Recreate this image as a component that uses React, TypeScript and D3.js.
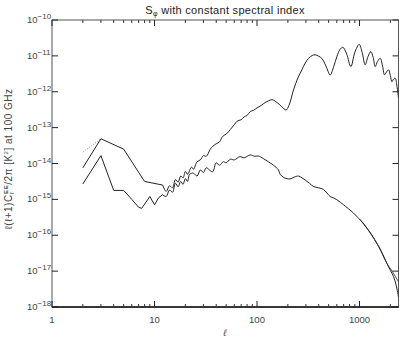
import React, { useEffect } from 'react'
import * as d3 from 'd3'

// multipole values and log10 of the power
const upperL = [2, 3, 5, 8, 11, 12, 13, 14, 15, 16, 17, 18, 19, 20, 21, 23, 24, 26, 28, 30, 32, 35, 37, 40, 43, 46, 50, 55, 60, 64, 70, 75, 80, 86, 92, 100, 110, 120, 130, 140, 150, 160, 175, 192, 205, 227, 250, 274, 295, 318, 345, 369, 400, 429, 470, 517, 560, 601, 645, 688, 750, 823, 900, 992, 1060, 1136, 1210, 1291, 1360, 1422, 1500, 1592, 1670, 1753, 1830, 1918, 2000, 2069, 2150, 2230, 2320, 2400]
const upperLog = [-14.12, -13.31, -13.6, -14.5, -14.58, -14.6, -14.78, -14.62, -14.68, -14.45, -14.52, -14.35, -14.4, -14.22, -14.3, -14.1, -14.16, -13.95, -13.9, -13.78, -13.8, -13.6, -13.52, -13.45, -13.4, -13.25, -13.18, -13.05, -12.92, -12.82, -12.78, -12.7, -12.66, -12.55, -12.52, -12.45, -12.38, -12.3, -12.25, -12.22, -12.26, -12.32, -12.42, -12.51, -12.38, -11.95, -11.62, -11.39, -11.2, -11.07, -10.99, -10.97, -11.01, -11.07, -11.28, -11.53, -11.3, -11.02, -10.82, -10.76, -10.95, -11.3, -10.9, -10.68, -10.9, -11.25, -11.02, -10.88, -11.05, -11.3, -11.15, -11.07, -11.25, -11.53, -11.45, -11.39, -11.55, -11.72, -11.65, -11.62, -11.85, -12.18]

const lowerL = [2, 3, 4, 5, 6, 7, 7.5, 9, 10, 11, 12, 13, 14, 15, 16, 17, 18, 19, 20, 21, 22, 24, 26, 28, 30, 32, 35, 37, 40, 43, 47, 50, 55, 60, 68, 75, 86, 95, 103, 115, 129, 145, 162, 168, 185, 210, 230, 254, 275, 295, 325, 355, 400, 444, 480, 517, 560, 601, 650, 697, 780, 873, 960, 1056, 1160, 1279, 1400, 1536, 1690, 1846, 2000, 2147, 2280, 2400]
const lowerLog = [-14.57, -13.78, -14.75, -14.75, -15.0, -15.22, -15.25, -14.92, -15.15, -14.95, -14.87, -14.92, -14.74, -14.8, -14.55, -14.65, -14.5, -14.58, -14.42, -14.5, -14.3, -14.27, -14.35, -14.18, -14.25, -14.12, -14.2, -14.23, -13.98, -14.05, -13.95, -13.98, -13.88, -13.9, -13.81, -13.84, -13.76, -13.8, -13.79, -13.86, -13.95, -14.05, -14.18, -14.3, -14.4, -14.43, -14.38, -14.35, -14.4, -14.46, -14.55, -14.64, -14.68, -14.72, -14.82, -14.92, -14.96, -15.01, -15.08, -15.15, -15.26, -15.38, -15.5, -15.62, -15.77, -15.94, -16.12, -16.31, -16.54, -16.78, -16.98, -17.15, -17.4, -17.72]

// thin model curves that show only where they leave the data
const modelUpperL = [2, 2.5, 3]
const modelUpperLog = [-13.68, -13.48, -13.31]
const modelLowerL = [1000, 1279, 1536, 1846, 2100, 2400]
const modelLowerLog = [-15.55, -15.94, -16.31, -16.78, -17.02, -17.3]

const yExponents = [-10, -11, -12, -13, -14, -15, -16, -17, -18]
const xLabels = [1, 10, 100, 1000]

const W = 415
const H = 346
const left = 52
const right = 398.5
const top = 20
const bottom = 307
const font = "'Liberation Sans', 'DejaVu Sans', sans-serif"

const App = () => {
  useEffect(() => {
    document.body.style.margin = '0'
  }, [])

  const x = d3.scaleLog().domain([1, 2400]).range([left, right])
  const y = d3.scaleLog().domain([1e-18, 1e-10]).range([bottom, top])

  const toPts = (ls: number[], logs: number[]) => ls.map((l, i) => [l, Math.pow(10, logs[i])] as [number, number])
  const straight = d3
    .line<[number, number]>()
    .x((d) => x(d[0]))
    .y((d) => y(d[1]))
  const smooth = d3
    .line<[number, number]>()
    .x((d) => x(d[0]))
    .y((d) => y(d[1]))
    .curve(d3.curveCatmullRom.alpha(0.5))

  // low multipoles are drawn point to point, the rest smoothed
  const curvePath = (ls: number[], logs: number[]) => {
    const pts = toPts(ls, logs)
    const lo = pts.filter((p) => p[0] <= 12)
    const hi = pts.filter((p) => p[0] >= 12)
    return (straight(lo) || '') + ' ' + (smooth(hi) || '')
  }

  const minorTicks: number[] = []
  for (let dec = 1; dec <= 1000; dec *= 10) {
    for (let k = 2; k <= 9; k++) {
      if (dec * k <= 2400) minorTicks.push(dec * k)
    }
  }

  const axisColor = '#555'

  return (
    <svg width={W} height={H} style={{ position: 'absolute', left: 0, top: 0, background: '#fff' }} fontFamily={font}>
      <text x={225} y={14} textAnchor="middle" fontSize={11} fill="#222" letterSpacing={0.3}>
        S<tspan fontSize={7} dy={2}>φ</tspan>
        <tspan dy={-2}> with constant spectral index</tspan>
      </text>

      {/* plot box */}
      <rect x={left} y={top} width={right - left} height={bottom - top} fill="none" stroke={axisColor} strokeWidth={1} />
      <line x1={left} x2={right} y1={bottom} y2={bottom} stroke="#111" strokeWidth={1.3} />

      {/* y ticks, both sides */}
      {yExponents.map((e) => (
        <g key={e}>
          <line x1={left} x2={left + 6} y1={y(Math.pow(10, e))} y2={y(Math.pow(10, e))} stroke="#222" />
          <line x1={right - 6} x2={right} y1={y(Math.pow(10, e))} y2={y(Math.pow(10, e))} stroke="#222" />
          <text x={27} y={y(Math.pow(10, e)) + 3} fontSize={9.5} fill="#444">
            10<tspan fontSize={8} dy={-4}>{'\u2212' + Math.abs(e)}</tspan>
          </text>
        </g>
      ))}

      {/* x ticks, bottom and top */}
      {xLabels.map((v) => (
        <g key={v}>
          <line x1={x(v)} x2={x(v)} y1={bottom} y2={bottom - 6} stroke="#222" />
          <line x1={x(v)} x2={x(v)} y1={top} y2={top + 6} stroke="#222" />
          <text x={x(v)} y={323} textAnchor="middle" fontSize={9.5} fill="#444">
            {v}
          </text>
        </g>
      ))}
      {minorTicks.map((v) => (
        <g key={'m' + v}>
          <line x1={x(v)} x2={x(v)} y1={bottom} y2={bottom - 3} stroke="#333" />
          <line x1={x(v)} x2={x(v)} y1={top} y2={top + 3} stroke="#333" />
        </g>
      ))}

      <text x={225} y={336} textAnchor="middle" fontSize={9.5} fill="#444" fontStyle="italic">
        ℓ
      </text>

      <text transform="translate(12,159) rotate(-90)" textAnchor="middle" fontSize={10} fill="#444" letterSpacing={0.5}>
        ℓ(ℓ+1)C<tspan fontSize={6} dy={2}>ℓ</tspan>
        <tspan fontSize={6} dy={-6} dx={-2} fontWeight="bold">EE</tspan>
        <tspan dy={4}>/2π  [K</tspan>
        <tspan fontSize={6} dy={-4}>2</tspan>
        <tspan dy={4}>] at 100 GHz</tspan>
      </text>

      <defs>
        <clipPath id="plot">
          <rect x={left} y={top} width={right - left} height={bottom - top + 1} />
        </clipPath>
      </defs>
      <g clipPath="url(#plot)" fill="none">
        <path d={straight(toPts(modelUpperL, modelUpperLog)) || ''} stroke="#666" strokeWidth={0.8} strokeDasharray="1,1.5" />
        <path d={smooth(toPts(modelLowerL, modelLowerLog)) || ''} stroke="#333" strokeWidth={0.9} />
        <path d={curvePath(upperL, upperLog)} stroke="#222" strokeWidth={1} />
        <path d={curvePath(lowerL, lowerLog)} stroke="#222" strokeWidth={1} />
      </g>
    </svg>
  )
}

export default App
